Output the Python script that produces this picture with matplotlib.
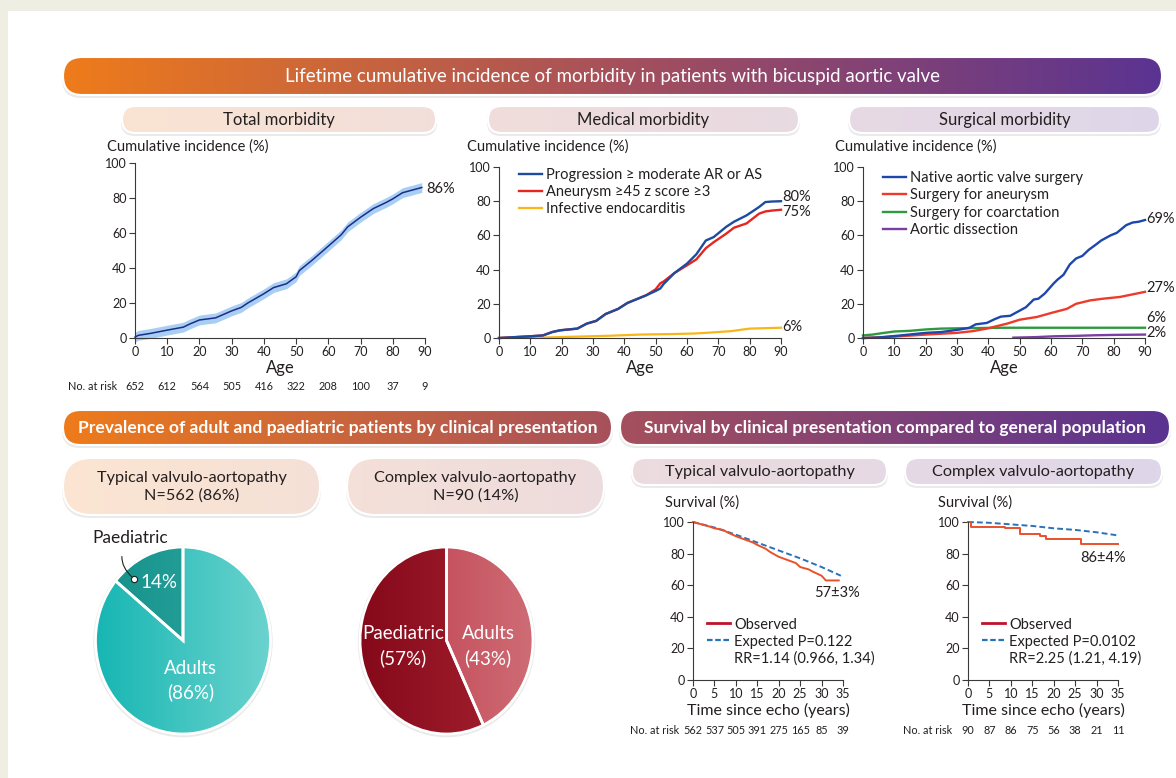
import numpy as np
import matplotlib
matplotlib.use("Agg")
import matplotlib.pyplot as plt
from matplotlib.colors import LinearSegmentedColormap
from matplotlib.patches import FancyBboxPatch, Rectangle, Ellipse
from matplotlib.lines import Line2D

plt.rcParams['font.family'] = ['Lato', 'DejaVu Sans']
plt.rcParams['text.color'] = '#231F20'

W, H = 1176, 778
INK = '#231F20'

# ---- total morbidity (age, cumulative incidence %) ----
total_age = [0, 1, 5, 10, 15, 17, 20, 25, 30, 33, 35, 40, 43, 47, 50, 51, 55, 60, 64, 66,
             70, 74, 78, 80, 83, 86, 89]
total_pct = [0.5, 1.5, 2.7, 4.5, 6.2, 8, 10.3, 11.5, 15.5, 17.5, 20, 25.3, 28.8, 31, 35, 38.5,
             44.5, 52.5, 59, 63.5, 69, 74, 77.5, 79.5, 83, 84.5, 86]
total_risk = [652, 612, 564, 505, 416, 322, 208, 100, 37, 9]

# ---- medical morbidity ----
med_age = [0, 5, 10, 14, 17, 19.5, 25, 28, 31, 34, 38, 41, 43, 47, 50, 51.5, 52.5, 56, 60, 63,
           66, 68.5, 72.5, 75, 79, 83, 85, 87, 90]
progression = [0, 0.5, 1, 1.5, 3.5, 4.5, 5.5, 8.4, 10, 14, 17, 20.5, 22, 25, 27.5, 29, 31.5, 38,
               43.5, 49, 57, 59, 65, 68, 71.7, 76.6, 79.5, 79.8, 80]
aneurysm = [0, 0.5, 1, 1.5, 3.5, 4.5, 5.5, 8.4, 10, 14, 17, 20.5, 22, 25, 28.5, 32, 33, 38,
            42.5, 46, 52.5, 56, 61, 64.5, 67, 72.7, 74, 74.5, 75]
endo_age = [0, 15, 25, 35, 45, 55, 62, 66, 70, 74, 78, 80, 90]
endocarditis = [0, 0.3, 0.8, 1.3, 2, 2.3, 2.6, 3, 3.5, 4, 5, 5.5, 6]

# ---- surgical morbidity ----
avs_age = [0, 5, 12, 20, 25, 31, 34, 36, 39.5, 42, 44, 47, 50, 52, 54.5, 56, 58, 60.8, 62, 64,
           66, 68, 70, 72, 74.6, 76, 79, 81, 84, 86, 88, 90]
valve_surgery = [0, 0.3, 1.5, 3, 3.5, 5, 6, 8, 8.8, 11, 12.5, 13, 16, 18, 22.5, 23, 26, 31.8, 34,
                 37, 43, 46.5, 48, 51.5, 55, 57, 60, 61.5, 66, 67.5, 68, 69]
ans_age = [0, 10, 20, 30, 35, 39.5, 46, 50, 55.5, 60.8, 65, 68, 72.5, 76.7, 82, 86, 90]
aneurysm_surgery = [0, 0.8, 2, 3, 4, 5.5, 8.4, 10.7, 12.3, 15, 17, 20, 22, 23, 24, 25.5, 27]
coa_age = [0, 3, 6, 10, 15, 20, 25, 35, 45, 90]
coarctation_surgery = [1.5, 2, 2.8, 3.8, 4.2, 5, 5.5, 5.8, 6, 6]
dis_age = [48, 55, 61, 67, 74, 80, 90]
dissection = [0.2, 0.5, 1, 1.2, 1.6, 1.8, 2]

# ---- prevalence ----
pie_labels = ['Paediatric', 'Adults']
typical_split = [14, 86]
complex_split = [57, 43]

# ---- survival ----
typ_t = [0, 2, 4, 5, 7, 8, 10, 12, 14, 15, 17, 18, 20, 22, 24, 25, 27, 28, 30, 31, 34]
typ_obs = [100, 98.5, 97, 96, 95, 93.5, 91, 89, 87, 85.5, 83, 81, 78, 76, 74, 71.5, 70, 68.5,
           66, 63, 63]
typ_exp_t = [0, 5, 10, 15, 20, 25, 30, 34.5]
typ_exp = [100, 96.5, 92, 87, 82, 77, 71.5, 66]
typ_risk = [562, 537, 505, 391, 275, 165, 85, 39]

cpx_t = [0, 0.8, 8.7, 12.1, 16.8, 18.3, 26.4, 35]
cpx_obs = [100, 97, 96, 92.5, 91, 89.5, 86, 86]
cpx_exp_t = [0, 5, 10, 15, 20, 25, 30, 35]
cpx_exp = [100, 99.5, 98.5, 97.5, 96, 95, 93.5, 91.5]
cpx_risk = [90, 87, 86, 75, 56, 38, 21, 11]

band = LinearSegmentedColormap.from_list('band', ['#EE7B1B', '#A6505C', '#5A3392'])
BX0, BX1 = 63, 1170


def rect(x0, y0, x1, y1):
    return [x0 / W, 1 - y1 / H, (x1 - x0) / W, (y1 - y0) / H]


def fx(x):
    return x / W


def fy(y):
    return 1 - y / H


fig = plt.figure(figsize=(W / 100, H / 100), dpi=100)
fig.patch.set_facecolor('#EEEFE2')
bg = fig.add_axes([0, 0, 1, 1])
bg.axis('off')
bg.add_patch(Rectangle((8, 11), W, H, facecolor='white', edgecolor='none'))


def pill(x0, y0, x1, y1, text, light=False, size=12, weight='normal'):
    r = (y1 - y0) / 2
    bg.add_patch(FancyBboxPatch((x0 - 1, y0), x1 - x0 + 2, y1 - y0 + 3,
                                boxstyle=f'round,pad=0,rounding_size={r}',
                                facecolor='#E2E2E2', edgecolor='none', alpha=0.7))
    patch = FancyBboxPatch((x0, y0), x1 - x0, y1 - y0,
                           boxstyle=f'round,pad=0,rounding_size={r}',
                           facecolor='none', edgecolor='white', linewidth=1.5)
    bg.add_patch(patch)
    t = np.linspace((x0 - BX0) / (BX1 - BX0), (x1 - BX0) / (BX1 - BX0), 256)
    cols = band(np.clip(t, 0, 1))[:, :3]
    if light:
        cols = 0.8 + 0.2 * cols
    im = bg.imshow(cols[None, :, :], extent=[x0, x1, y1, y0], aspect='auto',
                   interpolation='bilinear', zorder=1)
    im.set_clip_path(patch)
    patch.set_zorder(2)
    bg.text((x0 + x1) / 2, (y0 + y1) / 2 + 0.5, text, ha='center', va='center', zorder=3,
            color='white' if not light else INK, fontsize=size, weight=weight,
            linespacing=1.25)


pill(63, 57, 1162, 95, 'Lifetime cumulative incidence of morbidity in patients with bicuspid aortic valve',
     size=13.5)
pill(122, 106, 436, 133, 'Total morbidity', light=True, size=12)
pill(488, 106, 799, 133, 'Medical morbidity', light=True, size=12)
pill(849, 106, 1160, 133, 'Surgical morbidity', light=True, size=12)
pill(63, 410, 612, 445, 'Prevalence of adult and paediatric patients by clinical presentation',
     size=12.6, weight='bold')
pill(620, 410, 1170, 445, 'Survival by clinical presentation compared to general population',
     size=12.6, weight='bold')
pill(63, 458, 320, 515, 'Typical valvulo-aortopathy\nN=562 (86%)', light=True, size=11.7)
pill(347, 458, 604, 515, 'Complex valvulo-aortopathy\nN=90 (14%)', light=True, size=11.7)
pill(632, 458, 887, 485, 'Typical valvulo-aortopathy', light=True, size=11.7)
pill(905, 458, 1162, 485, 'Complex valvulo-aortopathy', light=True, size=11.7)

bg.set_xlim(0, W)
bg.set_ylim(H, 0)


def style(ax, xmax, xstep, ystep=20):
    ax.set_xlim(0, xmax)
    ax.set_ylim(0, 100)
    ax.set_xticks(np.arange(0, xmax + 1, xstep))
    ax.set_yticks(np.arange(0, 101, ystep))
    ax.set_facecolor('none')
    for s in ['top', 'right']:
        ax.spines[s].set_visible(False)
    for s in ['left', 'bottom']:
        ax.spines[s].set_color('#3A3A3A')
        ax.spines[s].set_linewidth(0.8)
    ax.tick_params(direction='out', length=4, width=0.8, pad=2, labelsize=9,
                   colors='#3A3A3A', labelcolor=INK)


# ---- top row ----
ax1 = fig.add_axes(rect(135, 163, 425, 338))
style(ax1, 90, 10)
lo = np.array(total_pct) - 2.8
hi = np.array(total_pct) + 2.8
ax1.fill_between(total_age, lo, hi, color='#A9CEF3', lw=0, clip_on=False)
ax1.plot(total_age, total_pct, color='#1B2C8A', lw=1.1, clip_on=False)
ax1.text(90.5, 85, '86%', fontsize=10.5, va='center', ha='left')

leg_kw = dict(loc='upper left', frameon=False, fontsize=10.5, handlelength=1.6,
              handletextpad=0.3, labelspacing=0.22, borderpad=0, borderaxespad=0)

ax2 = fig.add_axes(rect(499, 167, 781, 338))
style(ax2, 90, 10)
ax2.plot(endo_age, endocarditis, color='#F8B619', lw=1.6, clip_on=False,
         label='Infective endocarditis')
ax2.plot(med_age, aneurysm, color='#E5261E', lw=1.7, clip_on=False,
         label='Aneurysm \u226545 z score \u22653')
ax2.plot(med_age, progression, color='#1D4C9E', lw=1.7, clip_on=False,
         label='Progression \u2265 moderate AR or AS')
h, l = ax2.get_legend_handles_labels()
ax2.legend(h[::-1], l[::-1], bbox_to_anchor=(0.07, 0.995), **leg_kw)
ax2.text(90.5, 82.5, '80%', fontsize=10.5, va='center')
ax2.text(90.5, 73.8, '75%', fontsize=10.5, va='center')
ax2.text(90.5, 6.5, '6%', fontsize=10.5, va='center')

ax3 = fig.add_axes(rect(863, 167, 1145, 338))
style(ax3, 90, 10)
ax3.plot(coa_age, coarctation_surgery, color='#2E9A3F', lw=1.7, clip_on=False,
         label='Surgery for coarctation')
ax3.plot(dis_age, dissection, color='#7A3FA3', lw=1.7, clip_on=False,
         label='Aortic dissection')
ax3.plot(ans_age, aneurysm_surgery, color='#EE3A2A', lw=1.7, clip_on=False,
         label='Surgery for aneurysm')
ax3.plot(avs_age, valve_surgery, color='#1D47AC', lw=1.7, clip_on=False,
         label='Native aortic valve surgery')
h, l = ax3.get_legend_handles_labels()
order = [3, 2, 0, 1]
ax3.legend([h[i] for i in order], [l[i] for i in order], bbox_to_anchor=(0.07, 0.975), **leg_kw)
ax3.text(90.5, 69.5, '69%', fontsize=10.5, va='center')
ax3.text(90.5, 29.5, '27%', fontsize=10.5, va='center')
ax3.text(90.5, 11.5, '6%', fontsize=10.5, va='center')
ax3.text(90.5, 3, '2%', fontsize=10.5, va='center')

for xl in (107, 467, 835):
    fig.text(fx(xl), fy(147), 'Cumulative incidence (%)', fontsize=10.5, va='center')
for xc in (280, 640, 1004):
    fig.text(fx(xc), fy(368), 'Age', fontsize=12, ha='center', va='center')

fig.text(fx(68), fy(387), 'No. at risk', fontsize=7.8, va='center')
for a, n in zip(range(0, 91, 10), total_risk):
    ax1.text(a, (338 - 387) / 175, str(n), transform=ax1.get_xaxis_transform(),
             fontsize=7.8, ha='center', va='center')


# ---- pies ----
def pie(box, vals, grads, texts):
    x0, y0, x1, y1 = box
    rx, ry = (x1 - x0) / 2, (y1 - y0) / 2
    ax = fig.add_axes(rect(x0 - 0.1 * rx, y0 - 0.1 * ry, x1 + 0.1 * rx, y1 + 0.1 * ry))
    ax.add_patch(Ellipse((0, -0.01), 2.05, 2.05, facecolor='#EAEAEA', edgecolor='none', zorder=0))
    wedges, _ = ax.pie(vals, startangle=90, counterclock=True, radius=1,
                       wedgeprops=dict(linewidth=2, edgecolor='white'))
    for w, (c0, c1) in zip(wedges, grads):
        cm = LinearSegmentedColormap.from_list('w', [c0, c1])
        g = cm(np.linspace(0, 1, 256))[None, :, :3]
        im = ax.imshow(g, extent=[-1, 1, -1, 1], aspect='auto', interpolation='bilinear', zorder=1)
        im.set_clip_path(w)
        w.set_facecolor('none')
        w.set_zorder(2)
    ax.set_aspect('auto')
    ax.set_xlim(-1.1, 1.1)
    ax.set_ylim(-1.1, 1.1)
    ax.axis('off')
    for (tx, ty, s) in texts:
        ax.text(tx, ty, s, color='white', fontsize=13.5, ha='center', va='center',
                linespacing=1.45, zorder=4)
    return ax


pa = pie((95.5, 547, 270.5, 734), typical_split,
         [('#149089', '#2FAAA4'), ('#17B6B3', '#6BD3CE')],
         [(-0.28, 0.62, f'{typical_split[0]}%'),
          (0.09, -0.43, f'{pie_labels[1]}\n({typical_split[1]}%)')])
pa.annotate(pie_labels[0], xy=(-0.56, 0.66), xytext=(-0.6, 1.1), fontsize=12.5, ha='center',
            va='center', annotation_clip=False,
            arrowprops=dict(arrowstyle='-', lw=0.8, color=INK, shrinkA=6, shrinkB=2,
                            connectionstyle='arc3,rad=0.5'))
pa.plot(-0.56, 0.66, 'o', ms=4.5, mfc='white', mec=INK, mew=0.8, zorder=5, clip_on=False)

pie((360, 547, 533, 734), complex_split,
    [('#85091A', '#A82432'), ('#BD3A4A', '#CE6C75')],
    [(-0.5, -0.06, f'{pie_labels[0]}\n({complex_split[0]}%)'),
     (0.48, -0.06, f'{pie_labels[1]}\n({complex_split[1]}%)')])


# ---- survival ----
def survival(box, t, obs, et, exp, risk, note, note_xy, stats, steps, lab_x, risk_x):
    x0, y0, x1, y1 = box
    ax = fig.add_axes(rect(*box))
    style(ax, 35, 5)
    ax.plot(et, exp, color='#2A72B8', lw=1.4, ls=(0, (3, 1.6)), clip_on=False)
    ax.plot(t, obs, color='#E8512B', lw=1.4, clip_on=False,
            drawstyle='steps-post' if steps else 'default')
    ax.text(*note_xy, note, fontsize=10.5, ha='center', va='center')
    handles = [Line2D([], [], color='#C0132A', lw=2),
               Line2D([], [], color='#2A72B8', lw=1.6, ls=(0, (2.5, 1.2))),
               Line2D([], [], color='none')]
    ax.legend(handles, ['Observed', stats[0], stats[1]], bbox_to_anchor=(0.09, 0.395),
              loc='upper left', frameon=False, fontsize=10.5, handlelength=1.6,
              handletextpad=0.3, labelspacing=0.2, borderpad=0, borderaxespad=0)
    fig.text(fx(lab_x), fy(503), 'Survival (%)', fontsize=10.5, va='center')
    fig.text(fx((x0 + x1) / 2), fy(710), 'Time since echo (years)', fontsize=11.5,
             ha='center', va='center')
    fig.text(fx(risk_x), fy(730), 'No. at risk', fontsize=7.8, va='center')
    for a, n in zip(range(0, 36, 5), risk):
        ax.text(a, (y1 - 730) / (y1 - y0), str(n), transform=ax.get_xaxis_transform(),
                fontsize=7.8, ha='center', va='center')
    return ax


survival((693, 522, 843, 680), typ_t, typ_obs, typ_exp_t, typ_exp, typ_risk, '57\u00b13%',
         (33.6, 55), ('Expected P=0.122', 'RR=1.14 (0.966, 1.34)'), False, 665, 630)
survival((968, 522, 1118, 680), cpx_t, cpx_obs, cpx_exp_t, cpx_exp, cpx_risk, '86\u00b14%',
         (31.5, 77), ('Expected P=0.0102', 'RR=2.25 (1.21, 4.19)'), True, 938, 903)

fig.savefig('out.png', dpi=100, facecolor=fig.get_facecolor())
